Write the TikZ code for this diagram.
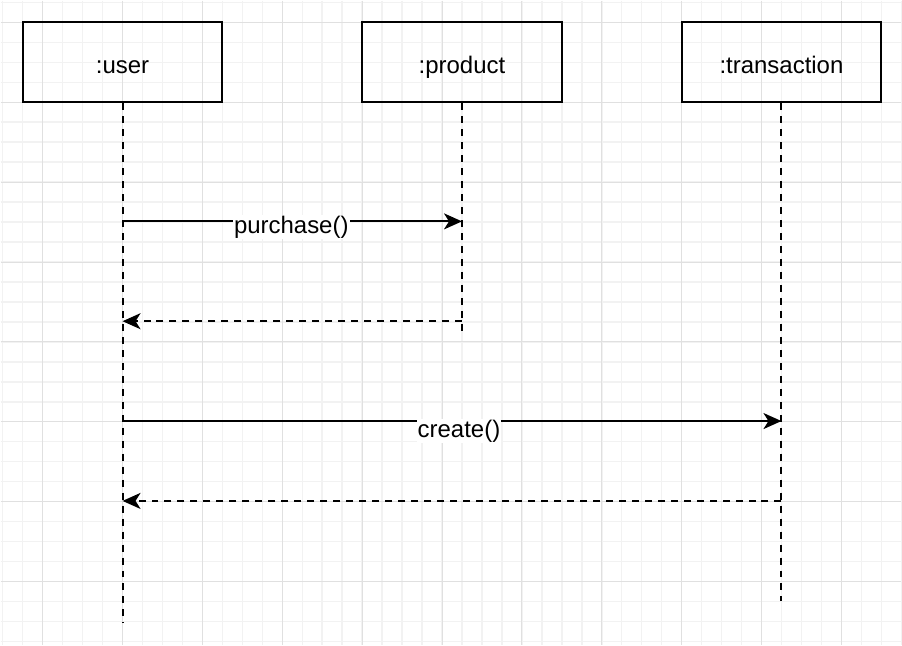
\documentclass[tikz,border=0pt]{standalone}
\usepackage{fontspec}
\setmainfont{Liberation Sans}
\usetikzlibrary{arrows.meta}

\begin{document}
\begin{tikzpicture}[
    x=1pt, y=-1pt,
    minorline/.style={draw=black!5, line width=1.5pt},
    majorline/.style={draw=black!12, line width=1pt},
    object/.style={
        rectangle,
        draw,
        line width=2pt,
        minimum width=200pt,
        minimum height=80pt,
        inner sep=0pt,
        text height=22pt,
        text depth=0pt,
        font=\fontsize{24}{28}\selectfont
    },
    lifeline/.style={draw, line width=2pt, dash pattern=on 7pt off 6pt},
    call/.style={draw, line width=2pt, -{Stealth[length=18pt,width=16pt,inset=5pt]}},
    reply/.style={call, dash pattern=on 7pt off 6pt},
    msglabel/.style={fill=white, inner sep=1pt, font=\fontsize{24}{28}\selectfont}
]

% ---------------- Background grid ----------------
\fill[white] (0,0) rectangle (902,645);
\foreach \x in {2,22,...,902}
    \draw[minorline] (\x,0) -- (\x,645);
\foreach \y in {1.7,21.7,...,645}
    \draw[minorline] (0,\y) -- (902,\y);
\foreach \x in {42,122,...,902}
    \draw[majorline] (\x,0) -- (\x,645);
\foreach \y in {21.7,101.7,...,645}
    \draw[majorline] (0,\y) -- (902,\y);

% ---------------- Objects ----------------
\node[object] (user) at (122,61.7) {:user};
\node[object] (product) at (462,61.7) {:product};
\node[object] (transaction) at (782,61.7) {:transaction};

% ---------------- Lifelines ----------------
\coordinate (userend) at (user.south |- 0,623);
\coordinate (productend) at (product.south |- 0,335);
\coordinate (transactionend) at (transaction.south |- 0,601);
\draw[lifeline] (user.south) -- (userend);
\draw[lifeline] (product.south) -- (productend);
\draw[lifeline] (transaction.south) -- (transactionend);

% ---------------- Messages ----------------
\coordinate (u1) at (user.south |- 0,221);
\coordinate (p1) at (product.south |- 0,221);
\coordinate (p2) at (product.south |- 0,321);
\coordinate (u2) at (user.south |- 0,321);
\coordinate (u3) at (user.south |- 0,421);
\coordinate (t3) at (transaction.south |- 0,421);
\coordinate (t4) at (transaction.south |- 0,501);
\coordinate (u4) at (user.south |- 0,501);

\draw[call] (u1) -- (p1);
\node[msglabel] (purchase) at (291,226.5) {purchase()};
\draw[reply] (p2) -- (u2);

\draw[call] (u3) -- (t3);
\node[msglabel] (create) at (459,431) {create()};
\draw[reply] (t4) -- (u4);

\useasboundingbox (0,0) rectangle (902,645);
\end{tikzpicture}
\end{document}
